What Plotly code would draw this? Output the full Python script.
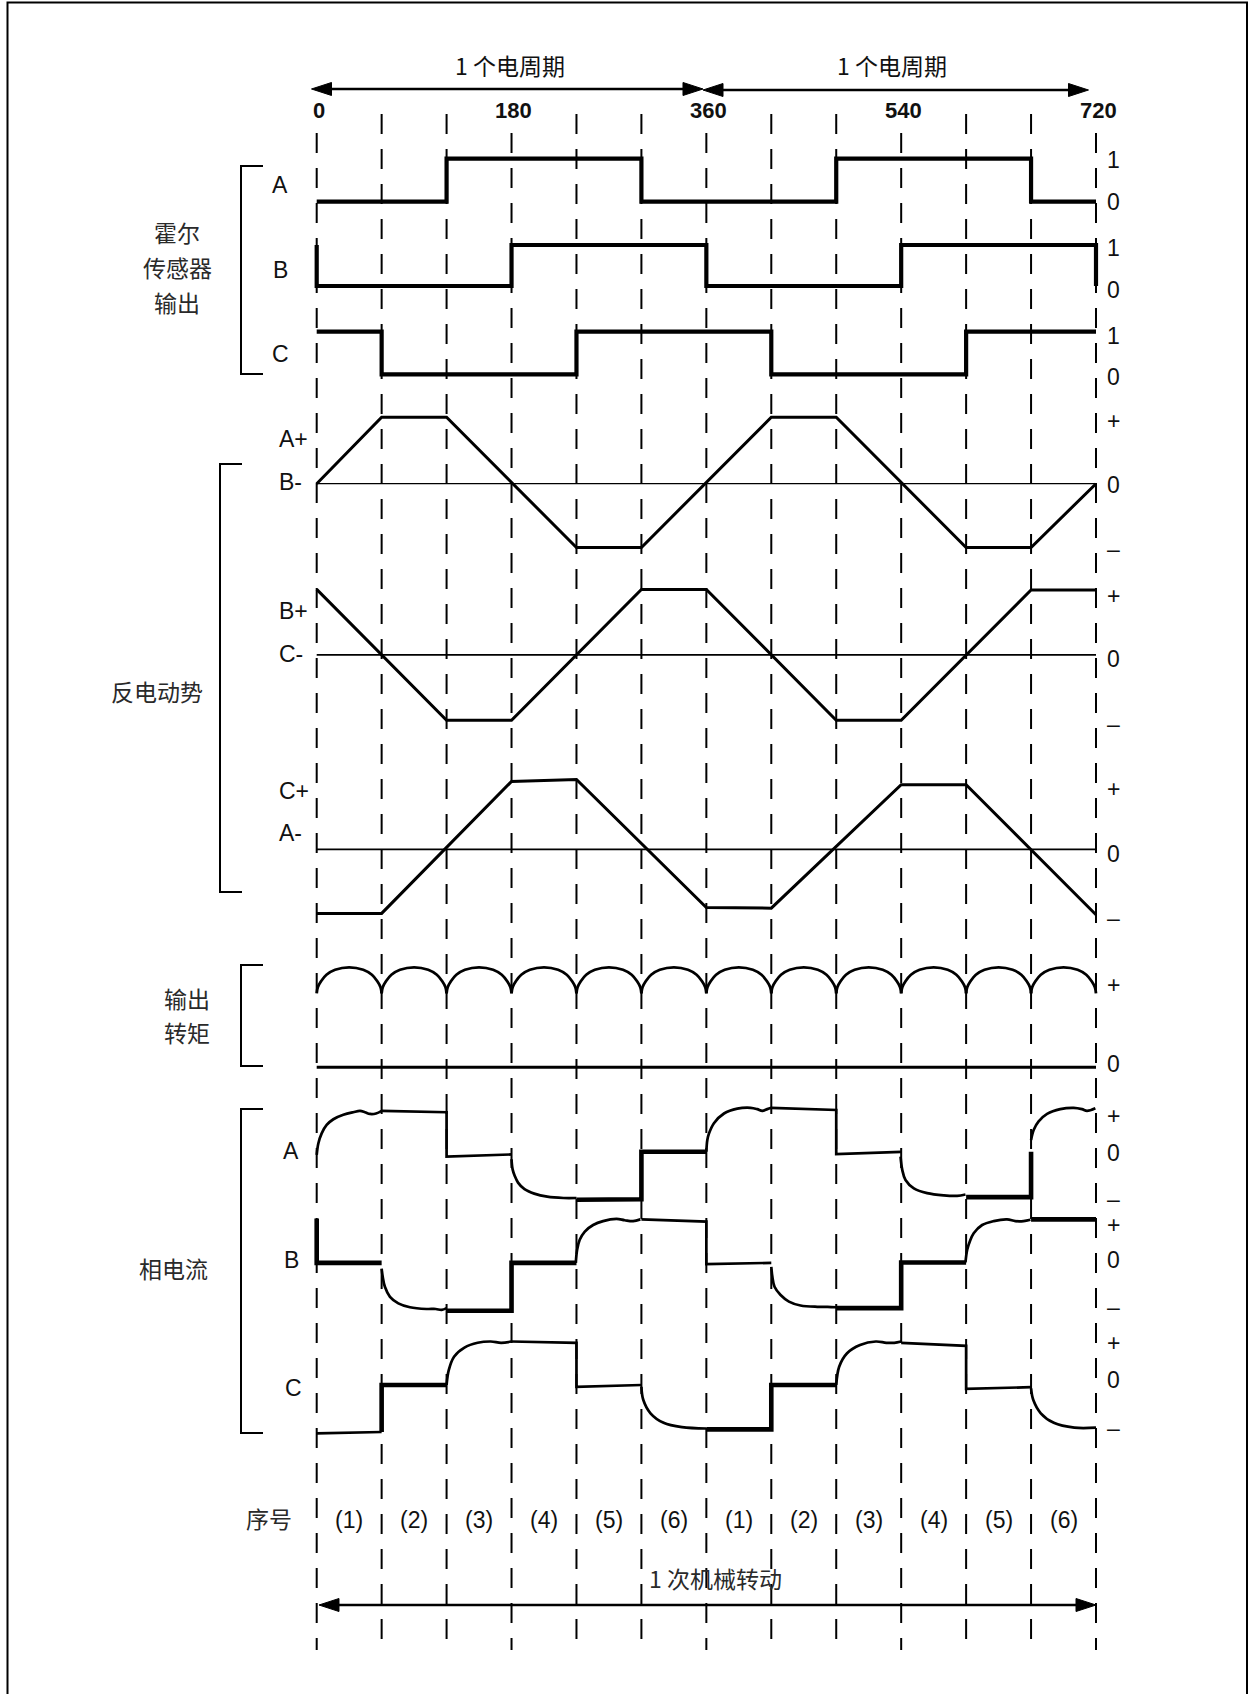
import plotly.graph_objects as go

# ---------------- data ----------------
SECTOR_EDGES = [0, 60, 120, 180, 240, 300, 360, 420, 480, 540, 600, 660, 720]
ANGLE_TICKS = [0, 180, 360, 540, 720]
ANGLE_TICK_TEXT = ["0", "180", "360", "540", "720"]
SECTOR_MIDS = [30, 90, 150, 210, 270, 330, 390, 450, 510, 570, 630, 690]
SECTOR_LABELS = ["(1)", "(2)", "(3)", "(4)", "(5)", "(6)",
                 "(1)", "(2)", "(3)", "(4)", "(5)", "(6)"]

# Hall sensor outputs (step, hold value until next x)
HALL_A_X = [0, 120, 300, 480, 660, 720]
HALL_A_Y = [0, 1, 0, 1, 0, 0]
HALL_B_X = [0, 0, 180, 360, 540, 720, 720]
HALL_B_Y = [1, 0, 1, 0, 1, 1, 0]
HALL_C_X = [0, 60, 240, 420, 600, 720]
HALL_C_Y = [1, 0, 1, 0, 1, 1]

# Back-EMF (trapezoids)
EMF_AB_X = [0, 60, 120, 240, 300, 420, 480, 600, 660, 720]
EMF_AB_Y = [0, 1, 1, -0.96, -0.96, 1, 1, -0.96, -0.96, 0]
EMF_BC_X = [0, 120, 180, 300, 360, 480, 540, 660, 720]
EMF_BC_Y = [1, -1, -1, 1, 1, -1, -1, 0.99, 0.99]
EMF_CA_X = [0, 60, 180, 240, 360, 420, 540, 600, 720]
EMF_CA_Y = [-0.97, -0.97, 1.03, 1.06, -0.88, -0.89, 0.98, 0.98, -0.99]

# Output torque: one arc per 60-degree sector
TORQUE_SECTOR_STARTS = [0, 60, 120, 180, 240, 300, 360, 420, 480, 540, 600, 660]
TORQUE_ARC_OFFSET = [0, 1, 4, 9, 17, 30, 43, 51, 56, 59, 60]
TORQUE_ARC_VALUE = [0.74, 0.8, 0.86, 0.925, 0.975, 1.0, 0.975, 0.925, 0.86, 0.8, 0.74]

# Phase currents: curved parts, thin straight parts, bold straight parts
IA_CURVE_X = [0, 1.5, 4.6, 9.2, 15.4, 24.6, 33.8, 40, 44.6, 49.2, 54.8, 60, None,
              180, 181, 183, 186, 192, 201, 213, 228, 240, None,
              360, 360.9, 362.5, 367, 376.3, 388.6, 400.9, 407, 411.7, 416.3, 420, None,
              539.4, 541, 544, 551.7, 564, 579.4, 591.7, 599.4, None,
              660, 662.5, 667, 674.8, 687, 699.4, 707, 711.7, 719.4]
IA_CURVE_Y = [-0.02, 0.24, 0.47, 0.66, 0.79, 0.89, 0.95, 0.98, 0.95, 0.91, 0.92, 0.98, None,
              -0.12, -0.35, -0.5, -0.65, -0.8, -0.9, -0.97, -1.0, -1.0, None,
              0.05, 0.32, 0.47, 0.7, 0.92, 1.03, 1.05, 1.02, 0.98, 1.02, 1.05, None,
              -0.06, -0.36, -0.59, -0.78, -0.89, -0.94, -0.95, -0.92, None,
              0.32, 0.55, 0.74, 0.91, 1.02, 1.05, 1.02, 0.98, 1.04]
IA_THIN_X = [60, 120, 120, 180, None, 420, 480, 480, 540]
IA_THIN_Y = [0.98, 0.95, -0.06, -0.01, None, 1.05, 1.0, 0.0, 0.05]
IA_BOLD_X = [240, 300, 300, 360, None, 600, 660, 660]
IA_BOLD_Y = [-1.04, -1.03, 0.05, 0.05, None, -0.98, -0.98, 0.05]

IB_CURVE_X = [60, 61, 63, 67.7, 75.4, 86.2, 101.5, 110, 115.4, 120, None,
              239.4, 240.6, 243, 247.7, 255.4, 264.6, 277, 284.6, 292.3, 299, None,
              420, 421, 423, 428.6, 436.3, 447, 462.5, 472, 480, None,
              599.4, 601, 603.4, 607, 614.8, 625.5, 637.8, 645.5, 653, 659.4]
IB_CURVE_Y = [-0.15, -0.34, -0.57, -0.8, -0.95, -1.04, -1.08, -1.08, -1.1, -1.06, None,
              -0.02, 0.28, 0.51, 0.7, 0.85, 0.94, 0.99, 0.96, 0.94, 0.98, None,
              -0.11, -0.34, -0.57, -0.76, -0.91, -1.0, -1.03, -1.03, -1.04, None,
              -0.01, 0.28, 0.47, 0.66, 0.85, 0.94, 0.98, 0.94, 0.94, 0.97]
IB_THIN_X = [300, 360, 360, 420]
IB_THIN_Y = [0.98, 0.93, -0.05, -0.02]
IB_BOLD_X = [0, 0, 60, None, 120, 180, 180, 240, None, 480, 540, 540, 600, None, 660, 720]
IB_BOLD_Y = [1.0, -0.02, -0.02, None, -1.12, -1.12, -0.02, -0.02, None,
             -1.06, -1.06, -0.01, -0.01, None, 0.98, 0.98]

IC_CURVE_X = [120, 122, 126.9, 136.5, 148.7, 160.8, 170.4, 180, None,
              300, 301.7, 308.4, 320.5, 337.5, 360, None,
              480, 482.7, 490, 502, 516.6, 526.3, 533.6, 540, None,
              660, 662, 669, 681, 700, 720]
IC_CURVE_Y = [0, 0.34, 0.65, 0.86, 0.97, 1.0, 0.97, 1.0, None,
              -0.04, -0.34, -0.65, -0.87, -0.97, -1.0, None,
              0, 0.42, 0.73, 0.92, 1.0, 0.97, 0.97, 1.0, None,
              -0.08, -0.34, -0.65, -0.87, -0.98, -0.98]
IC_THIN_X = [0, 60, None, 180, 240, 240, 300, None, 540, 600, 600, 660]
IC_THIN_Y = [-1.11, -1.08, None, 1.0, 0.97, -0.04, 0.0, None, 0.97, 0.9, -0.09, -0.05]
IC_BOLD_X = [60, 60, 120, None, 360, 420, 420, 480]
IC_BOLD_Y = [-1.08, 0, 0, None, -1.02, -1.02, 0, 0]

# ---------------- layout geometry ----------------
W, H = 1258, 1694
X0_PX, X720_PX = 316.7, 1096.0
KX = (X720_PX - X0_PX) / 720.0
XRANGE = [-X0_PX / KX, (W - X0_PX) / KX]


def PX(x):
    return x / W


def PY(y):
    return 1 - y / H


def AX(a):  # angle -> pixel x
    return X0_PX + a * KX


# row: (pixel of value 0, pixel of value 1, band top, band bottom)
ROWS = {
    "hallA": (201.7, 158.7, 140, 215), "hallB": (286.0, 245.0, 225, 300),
    "hallC": (374.3, 331.7, 310, 392),
    "emf1": (483.7, 417.2, 400, 562), "emf2": (654.8, 589.4, 570, 736),
    "emf3": (849.4, 783.4, 760, 932),
    "torque": (1067.3, 967.3, 950, 1085),
    "iA": (1154.0, 1110.0, 1095, 1210), "iB": (1262.0, 1218.5, 1210, 1318),
    "iC": (1385.0, 1341.5, 1322, 1445),
}
AXIS_OF = {}
fig = go.Figure()
layout_axes = {}
for i, (name, (p0, p1, top, bot)) in enumerate(ROWS.items()):
    n = i + 2
    k = p0 - p1
    AXIS_OF[name] = "y%d" % n
    layout_axes["yaxis%d" % n] = dict(domain=[1 - bot / H, 1 - top / H],
                                       range=[(p0 - bot) / k, (p0 - top) / k],
                                       anchor="x", visible=False, fixedrange=True)

BLACK = "#000000"


def add(x, y, row, width, shape="linear"):
    fig.add_trace(go.Scatter(x=x, y=y, xaxis="x", yaxis=AXIS_OF[row], mode="lines",
                             line=dict(color=BLACK, width=width, shape=shape),
                             connectgaps=False, hoverinfo="skip", showlegend=False))


# Hall
add(HALL_A_X, HALL_A_Y, "hallA", 4.2, "hv")
add(HALL_B_X, HALL_B_Y, "hallB", 4.2, "hv")
add(HALL_C_X, HALL_C_Y, "hallC", 4.2, "hv")
# EMF
add(EMF_AB_X, EMF_AB_Y, "emf1", 3.0)
add(EMF_BC_X, EMF_BC_Y, "emf2", 3.0)
add(EMF_CA_X, EMF_CA_Y, "emf3", 3.0)
# Torque arcs
tx, ty = [], []
for s in TORQUE_SECTOR_STARTS:
    tx += [s + o for o in TORQUE_ARC_OFFSET] + [None]
    ty += TORQUE_ARC_VALUE + [None]
add(tx, ty, "torque", 2.8, "spline")
# Currents
for row, cx, cy, thx, thy, bx, by in [
    ("iA", IA_CURVE_X, IA_CURVE_Y, IA_THIN_X, IA_THIN_Y, IA_BOLD_X, IA_BOLD_Y),
    ("iB", IB_CURVE_X, IB_CURVE_Y, IB_THIN_X, IB_THIN_Y, IB_BOLD_X, IB_BOLD_Y),
    ("iC", IC_CURVE_X, IC_CURVE_Y, IC_THIN_X, IC_THIN_Y, IC_BOLD_X, IC_BOLD_Y),
]:
    add(cx, cy, row, 2.7, "spline")
    add(thx, thy, row, 2.7)
    add(bx, by, row, 4.6)

shapes = []
# frame (bottom edge lies just below the visible page)
shapes.append(dict(type="rect", xref="paper", yref="paper", x0=PX(7.5), x1=PX(1247),
                   y0=PY(1700), y1=PY(2.5), line=dict(color=BLACK, width=2)))
# dashed sector lines
for a in SECTOR_EDGES:
    ytop = 133 if a in ANGLE_TICKS else 114
    shapes.append(dict(type="line", xref="x", yref="paper", x0=a, x1=a, y0=PY(ytop), y1=PY(1650),
                       line=dict(color=BLACK, width=2, dash="20px,15px")))
# zero lines
for row, wdt in [("emf1", 1.2), ("emf2", 1.8), ("emf3", 1.8), ("torque", 3.0)]:
    shapes.append(dict(type="line", xref="x", yref=AXIS_OF[row], x0=0, x1=720, y0=0, y1=0,
                       line=dict(color=BLACK, width=wdt)))


def path(pts, closed=False):
    s = "M " + " L ".join("%f,%f" % (PX(x), PY(y)) for x, y in pts)
    return s + (" Z" if closed else "")


# brackets
for (xl, xr, yt, yb) in [(241, 263, 166, 374), (220, 242, 464, 892),
                         (241, 263, 965, 1066), (241, 263, 1109, 1433)]:
    shapes.append(dict(type="path", xref="paper", yref="paper",
                       path=path([(xr, yt), (xl, yt), (xl, yb), (xr, yb)]),
                       line=dict(color=BLACK, width=2)))


def arrow(x1, x2, y, head=20, half=6.5):
    shapes.append(dict(type="line", xref="paper", yref="paper", x0=PX(x1 + 5), x1=PX(x2 - 5),
                       y0=PY(y), y1=PY(y), line=dict(color=BLACK, width=2.6)))
    shapes.append(dict(type="path", xref="paper", yref="paper", fillcolor=BLACK,
                       path=path([(x1, y), (x1 + head, y - half), (x1 + head, y + half)], True),
                       line=dict(color=BLACK, width=1)))
    shapes.append(dict(type="path", xref="paper", yref="paper", fillcolor=BLACK,
                       path=path([(x2, y), (x2 - head, y - half), (x2 - head, y + half)], True),
                       line=dict(color=BLACK, width=1)))


arrow(311.5, 703, 89)
arrow(703, 1088.5, 90)
arrow(319, 1096, 1605)

ann = []
LAT = "Liberation Sans, Arial, sans-serif"
CJK = "Noto Sans CJK SC, sans-serif"


def text(x, y, s, size=23, fam=LAT, xanchor="center", bold=False, color="#111111"):
    ann.append(dict(xref="paper", yref="paper", x=PX(x), y=PY(y), text=("<b>%s</b>" % s) if bold else s,
                    showarrow=False, xanchor=xanchor, yanchor="middle",
                    font=dict(family=fam, size=size, color=color)))


# top
text(510, 65, "1 个电周期", 23, CJK)
text(892, 65, "1 个电周期", 23, CJK)
for a, t in zip(ANGLE_TICKS, ANGLE_TICK_TEXT):
    text(AX(a) + 2, 111, t, 22, LAT, bold=True)

# left titles
GR = "#2a2a2a"
text(177, 232, "霍尔", 23, CJK, color=GR)
text(177, 267, "传感器", 23, CJK, color=GR)
text(177, 302, "输出", 23, CJK, color=GR)
text(157, 691, "反电动势", 23, CJK, color=GR)
text(187, 998, "输出", 23, CJK, color=GR)
text(187, 1032, "转矩", 23, CJK, color=GR)
text(173, 1268, "相电流", 23, CJK, color=GR)
text(269, 1518, "序号", 23, CJK, color=GR)
text(715, 1578, "1 次机械转动", 23, CJK, color=GR)

# row letters
text(280, 185, "A", 23)
text(280, 270, "B", 23)
text(280, 354, "C", 23)
for y, s in [(439, "A+"), (482, "B-"), (611, "B+"), (654, "C-"), (791, "C+"), (833, "A-")]:
    text(277, y, s, 23, xanchor="left")
text(291, 1151, "A", 23)
text(291, 1260, "B", 23)
text(293, 1388, "C", 23)

# right level labels
RX = 1113
for y, s in [(160, "1"), (202, "0"), (248, "1"), (290, "0"), (336, "1"), (377, "0"),
             (421, "+"), (485, "0"), (549, "–"),
             (596, "+"), (659, "0"), (724, "–"),
             (789, "+"), (854, "0"), (918, "–"),
             (985, "+"), (1064, "0"),
             (1116, "+"), (1153, "0"), (1199, "–"),
             (1225, "+"), (1260, "0"), (1307, "–"),
             (1343, "+"), (1380, "0"), (1428, "–")]:
    text(RX, y, s, 23)

# sector numbers
for a, s in zip(SECTOR_MIDS, SECTOR_LABELS):
    text(AX(a), 1520, s, 23)

fig.update_layout(
    width=W, height=H, autosize=False,
    margin=dict(l=0, r=0, t=0, b=0, pad=0),
    paper_bgcolor="white", plot_bgcolor="rgba(0,0,0,0)",
    xaxis=dict(range=XRANGE, visible=False, fixedrange=True, anchor="y"),
    yaxis=dict(range=[0, 1], domain=[0, 1], visible=False, fixedrange=True),
    shapes=shapes, annotations=ann, showlegend=False,
    **layout_axes,
)
fig.write_html("out.html", config={"displayModeBar": False},
               post_script="document.body.style.margin='0px';")
